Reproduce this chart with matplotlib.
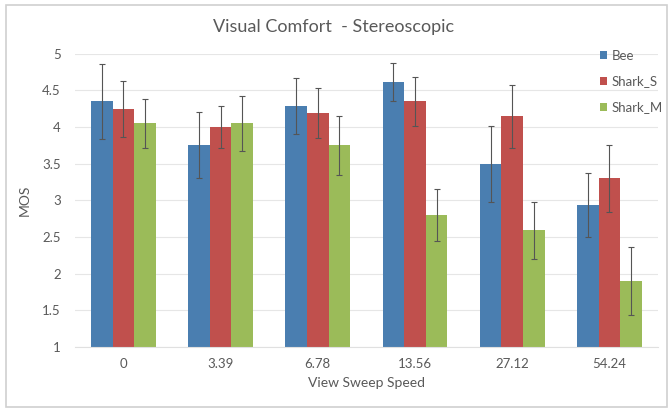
import numpy as np
import matplotlib
matplotlib.use("Agg")
import matplotlib.pyplot as plt

speeds = ["0", "3.39", "6.78", "13.56", "27.12", "54.24"]
series = ["Bee", "Shark_S", "Shark_M"]
bee = [4.35, 3.75, 4.29, 4.61, 3.50, 2.94]
shark_s = [4.25, 4.00, 4.19, 4.35, 4.15, 3.30]
shark_m = [4.05, 4.05, 3.75, 2.80, 2.59, 1.90]
bee_err = [0.51, 0.45, 0.38, 0.26, 0.52, 0.44]
shark_s_err = [0.38, 0.29, 0.34, 0.33, 0.43, 0.46]
shark_m_err = [0.34, 0.37, 0.40, 0.36, 0.39, 0.47]

colors = ["#4A7EB0", "#C0504D", "#9BBB59"]
txt = "#595959"

plt.rcParams["font.family"] = ["Lato", "DejaVu Sans"]

fig = plt.figure(figsize=(6.68, 4.08), dpi=100)
ax = fig.add_axes([0.112, 0.1495, 0.873, 0.7185])

x = np.arange(len(speeds))
w = 0.222
vals = [bee, shark_s, shark_m]
errs = [bee_err, shark_s_err, shark_m_err]
for i in range(3):
    ax.bar(x + (i - 1) * w, np.array(vals[i]) - 1, w, bottom=1, color=colors[i],
           label=series[i], zorder=2)
    ax.errorbar(x + (i - 1) * w, vals[i], yerr=errs[i], fmt="none",
                ecolor="#555555", elinewidth=0.8, capsize=2.5, capthick=0.8, zorder=3)

ax.set_xlim(-0.5, len(speeds) - 0.5)
ax.set_ylim(1, 5)
ax.set_yticks(np.arange(1, 5.01, 0.5))
ax.set_yticklabels(["1", "1.5", "2", "2.5", "3", "3.5", "4", "4.5", "5"])
ax.set_xticks(x)
ax.set_xticklabels(speeds)
ax.grid(axis="y", color="#E6E6E6", linewidth=0.8, zorder=0)
for s in ["top", "right", "left"]:
    ax.spines[s].set_visible(False)
ax.spines["bottom"].set_color("#E0E0E0")
ax.tick_params(length=0, colors=txt, labelsize=9.5)
ax.tick_params(axis="x", pad=8)
ax.tick_params(axis="y", pad=10)

ax.set_xlabel("View Sweep Speed", color=txt, fontsize=10, labelpad=5)
ax.set_ylabel("MOS", color=txt, fontsize=10, labelpad=8)
fig.text(0.5, 0.935, "Visual Comfort  - Stereoscopic", ha="center", va="center",
         color=txt, fontsize=13)

leg = ax.legend(loc="upper left", bbox_to_anchor=(0.88, 1.055), frameon=False,
                fontsize=9.5, handlelength=0.55, handleheight=0.55, handletextpad=0.35,
                labelspacing=1.05, labelcolor=txt)

# outer chart border
fig.patches.append(plt.Rectangle((0.009, 0.002), 0.989, 0.985, transform=fig.transFigure,
                                 fill=False, edgecolor="#D0D0D0", linewidth=1.2))

fig.savefig("out.png", dpi=100)
